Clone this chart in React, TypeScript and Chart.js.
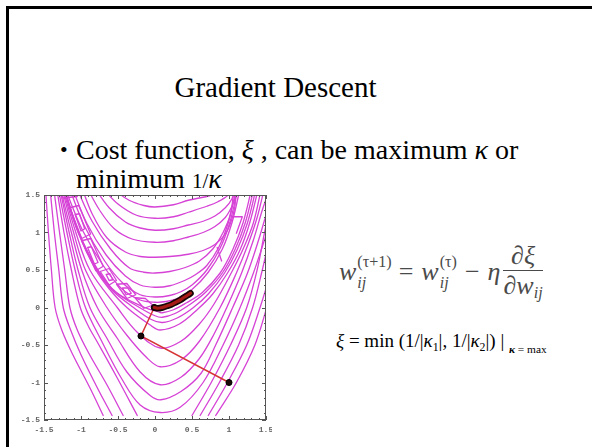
import React, { useEffect, useRef } from "react";
import { Chart, registerables } from "chart.js";

Chart.register(...registerables);

type Pt = [number, number];

// Axis ticks of the contour plot
const axisTickValues = [-1.5, -1, -0.5, 0, 0.5, 1, 1.5];

// Outer level curves below the valley, cut off at the lower edge of the sampled domain
const cutLeftArms: Pt[][] = [
  [[-1.48, 1.6], [-1.44, 1.0], [-1.4, 0.5], [-1.35, 0], [-1.26, -0.3], [-1.11, -0.63], [-0.88, -1.07], [-0.7, -1.44]],
  [[-1.42, 1.6], [-1.36, 1.0], [-1.3, 0.5], [-1.24, 0], [-1.14, -0.3], [-1.0, -0.63], [-0.78, -1.07], [-0.58, -1.44]],
  [[-1.37, 1.6], [-1.29, 1.0], [-1.22, 0.5], [-1.15, 0], [-1.05, -0.3], [-0.9, -0.6], [-0.65, -1.03], [-0.43, -1.44]],
  [[-1.33, 1.6], [-1.23, 1.0], [-1.13, 0.5], [-1.01, 0], [-0.9, -0.25], [-0.78, -0.46], [-0.51, -0.94], [-0.24, -1.44]],
];
const cutRightArms: Pt[][] = [
  [[0.82, -1.44], [1.1, -1.0], [1.35, -0.5], [1.51, 0.0], [1.56, 0.2]],
  [[0.72, -1.44], [0.98, -1.0], [1.24, -0.5], [1.42, 0], [1.53, 0.35]],
  [[0.61, -1.44], [0.87, -1.0], [1.13, -0.5], [1.32, 0], [1.45, 0.5], [1.53, 0.85]],
  [[0.5, -1.44], [0.76, -1.0], [1.02, -0.5], [1.24, 0], [1.38, 0.5], [1.48, 1.0], [1.54, 1.3]],
];

// Closed-bottom level curves below the valley
const lowerLevels: Pt[][] = [
  [[-1.31, 1.6], [-1.19, 1.0], [-1.08, 0.5], [-0.94, 0], [-0.72, -0.45], [-0.45, -0.95], [-0.2, -1.3], [0.07, -1.4], [0.34, -1.33], [0.65, -1.0], [0.92, -0.5], [1.15, 0], [1.33, 0.46], [1.48, 0.9], [1.55, 1.1]],
  [[-1.29, 1.6], [-1.16, 1.0], [-1.04, 0.5], [-0.88, 0], [-0.65, -0.41], [-0.38, -0.86], [-0.07, -1.17], [0.08, -1.23], [0.35, -1.12], [0.62, -0.88], [0.82, -0.5], [1.05, 0], [1.25, 0.46], [1.4, 0.9], [1.52, 1.3]],
  [[-1.28, 1.6], [-1.13, 1.0], [-0.99, 0.5], [-0.78, 0], [-0.51, -0.41], [-0.2, -0.86], [0.07, -1.03], [0.35, -0.93], [0.6, -0.68], [0.8, -0.35], [0.97, 0], [1.17, 0.46], [1.33, 0.9], [1.45, 1.3], [1.52, 1.5]],
  [[-1.26, 1.6], [-1.1, 1.0], [-0.94, 0.5], [-0.65, 0], [-0.38, -0.37], [-0.11, -0.67], [0.07, -0.79], [0.35, -0.7], [0.6, -0.45], [0.88, 0.0], [1.1, 0.46], [1.26, 0.85], [1.38, 1.2], [1.48, 1.6]],
  [[-1.25, 1.6], [-1.07, 1.0], [-0.88, 0.5], [-0.51, 0], [-0.24, -0.33], [0.07, -0.54], [0.35, -0.45], [0.6, -0.22], [0.8, 0.05], [1.03, 0.46], [1.2, 0.8], [1.33, 1.13], [1.44, 1.6]],
  [[-1.24, 1.6], [-1.04, 1.0], [-0.8, 0.5], [-0.62, 0.25], [-0.38, 0], [-0.07, -0.23], [0.07, -0.3], [0.33, -0.22], [0.58, -0.02], [0.78, 0.18], [0.98, 0.46], [1.15, 0.77], [1.28, 1.13], [1.4, 1.6]],
  [[-1.235, 1.6], [-1.035, 1.0], [-0.79, 0.5], [-0.58, 0.23], [-0.29, 0.0], [-0.05, -0.16], [0.1, -0.2], [0.3, -0.14], [0.52, 0.0], [0.72, 0.18], [0.94, 0.46], [1.11, 0.77], [1.25, 1.13], [1.37, 1.6]],
  [[-1.23, 1.6], [-1.03, 1.0], [-0.78, 0.5], [-0.55, 0.22], [-0.21, 0.0], [0.0, -0.11], [0.1, -0.13], [0.27, -0.08], [0.47, 0.04], [0.68, 0.2], [0.91, 0.46], [1.08, 0.77], [1.22, 1.13], [1.34, 1.6]],
  [[-1.23, 1.6], [-1.03, 1.0], [-0.77, 0.5], [-0.52, 0.2], [-0.14, 0.0], [0.05, -0.06], [0.1, -0.07], [0.25, -0.03], [0.42, 0.06], [0.64, 0.2], [0.88, 0.46], [1.05, 0.77], [1.19, 1.13], [1.31, 1.6]],
];

// Level curves inside the valley, from the top arc down to the valley floor
const upperLevels: Pt[][] = [
  [[-0.6, 1.6], [-0.35, 1.43], [-0.15, 1.36], [0.0, 1.34], [0.25, 1.37], [0.45, 1.43], [0.65, 1.47], [0.77, 1.5], [0.9, 1.6]],
  [[-0.72, 1.6], [-0.5, 1.38], [-0.25, 1.23], [0.0, 1.19], [0.25, 1.21], [0.45, 1.27], [0.7, 1.35], [0.85, 1.41], [0.99, 1.5], [1.05, 1.6]],
  [[-0.82, 1.6], [-0.62, 1.33], [-0.4, 1.14], [-0.2, 1.06], [0.0, 1.03], [0.25, 1.05], [0.45, 1.1], [0.65, 1.15], [0.81, 1.22], [0.95, 1.33], [1.04, 1.45], [1.08, 1.6]],
  [[-0.92, 1.6], [-0.75, 1.3], [-0.55, 1.05], [-0.3, 0.91], [0.0, 0.87], [0.25, 0.89], [0.45, 0.94], [0.65, 1.0], [0.81, 1.08], [0.95, 1.2], [1.03, 1.33], [1.1, 1.5], [1.12, 1.6]],
  [[-0.99, 1.6], [-0.85, 1.25], [-0.65, 0.93], [-0.4, 0.74], [-0.2, 0.68], [0.0, 0.67], [0.2, 0.68], [0.45, 0.71], [0.65, 0.76], [0.81, 0.84], [0.95, 0.98], [1.03, 1.15], [1.08, 1.35], [1.1, 1.6]],
  [[-1.06, 1.6], [-0.85, 1.15], [-0.6, 0.78], [-0.35, 0.53], [-0.15, 0.47], [0.0, 0.46], [0.2, 0.48], [0.4, 0.53], [0.6, 0.62], [0.78, 0.78], [0.92, 1.0], [1.02, 1.25], [1.07, 1.6]],
  [[-1.12, 1.6], [-0.92, 1.12], [-0.66, 0.7], [-0.4, 0.42], [-0.2, 0.3], [0.0, 0.27], [0.2, 0.29], [0.4, 0.36], [0.55, 0.44], [0.7, 0.56], [0.86, 0.8], [0.99, 1.13], [1.08, 1.5], [1.1, 1.6]],
  [[-1.16, 1.6], [-0.95, 1.08], [-0.68, 0.62], [-0.43, 0.32], [-0.2, 0.17], [0.0, 0.14], [0.2, 0.16], [0.35, 0.21], [0.5, 0.3], [0.7, 0.5], [0.88, 0.79], [1.01, 1.13], [1.1, 1.5], [1.12, 1.6]],
  [[-1.22, 1.6], [-1.18, 1.5], [-0.98, 1.03], [-0.7, 0.56], [-0.45, 0.25], [-0.2, 0.1], [0.0, 0.07], [0.15, 0.08], [0.3, 0.12], [0.5, 0.24], [0.72, 0.47], [0.91, 0.78], [1.04, 1.13], [1.13, 1.5], [1.15, 1.6]],
];

// Coarse grid-cell outlines along the left arm of the valley
const cellOutlines: Pt[][] = [
  [[-1.24, 1.46], [-1.05, 1.48]],
  [[-1.15, 1.33], [-1.03, 1.36], [-0.87, 0.98], [-0.99, 0.92], [-1.15, 1.33]],
  [[-1.08, 1.24], [-1.02, 1.25], [-0.95, 1.05], [-1.0, 1.02], [-1.08, 1.24]],
  [[-0.99, 0.89], [-0.87, 0.92], [-0.7, 0.55], [-0.8, 0.49], [-0.99, 0.89]],
  [[-0.91, 0.8], [-0.86, 0.81], [-0.77, 0.6], [-0.82, 0.58], [-0.91, 0.8]],
  [[-0.74, 0.48], [-0.62, 0.52], [-0.52, 0.36], [-0.62, 0.3], [-0.74, 0.48]],
  [[-0.66, 0.44], [-0.61, 0.45], [-0.57, 0.37], [-0.62, 0.36], [-0.66, 0.44]],
  [[-0.52, 0.31], [-0.38, 0.32], [-0.26, 0.17], [-0.38, 0.12], [-0.52, 0.31]],
  [[-0.44, 0.26], [-0.37, 0.26], [-0.32, 0.19], [-0.39, 0.17], [-0.44, 0.26]],
  [[-0.27, 0.13], [-0.13, 0.12], [-0.03, 0.03], [-0.15, -0.01], [-0.27, 0.13]],
];

// Short cross pieces between the two right-hand bands
const bandBridges: Pt[][] = [
  [[1.04, 1.21], [1.18, 1.21], [1.1, 0.99]],
  [[0.84, 0.8], [0.9, 0.62]],
];

// Gradient-descent iterates: two long first steps, then a slow creep along the valley
const stepX = [1.0, -0.19, -0.01];
const stepY = [-1.0, -0.38, 0.0];
const creepX = [-0.01, 0.04, 0.1, 0.16, 0.22, 0.28, 0.34, 0.4, 0.45, 0.48];
const creepY = [0.0, -0.01, 0.0, 0.02, 0.04, 0.07, 0.1, 0.14, 0.17, 0.19];

const MAGENTA = "rgb(214, 66, 214)";
const SERIF = '"Liberation Serif", "Times New Roman", serif';
const TICK_FONT = '"Liberation Mono", "DejaVu Sans Mono", monospace';

const toXY = (pts: Pt[]) => pts.map(([x, y]) => ({ x, y }));
const zipXY = (xs: number[], ys: number[]) => xs.map((x, i) => ({ x, y: ys[i] }));

const contour = (pts: Pt[], tension = 0.35) => ({
  data: toXY(pts),
  showLine: true,
  borderColor: MAGENTA,
  borderWidth: 1.3,
  pointRadius: 0,
  pointHoverRadius: 0,
  tension,
  clip: 0,
  borderJoinStyle: "round" as const,
  borderCapStyle: "round" as const,
});

// Frame with inward major/minor ticks, Mathematica style
const framePlugin = {
  id: "plotFrame",
  afterDatasetsDraw(chart: any) {
    const { ctx, chartArea: a, scales } = chart;
    const xs = scales.x;
    const ys = scales.y;
    ctx.save();
    ctx.strokeStyle = "#555";
    ctx.lineWidth = 1;
    ctx.strokeRect(a.left + 0.5, a.top + 0.5, a.right - a.left - 1, a.bottom - a.top - 1);
    ctx.beginPath();
    for (let i = -15; i <= 15; i++) {
      const v = i / 10;
      const major = i % 5 === 0;
      const len = major ? 4 : 2;
      const px = Math.round(xs.getPixelForValue(v)) + 0.5;
      const py = Math.round(ys.getPixelForValue(v)) + 0.5;
      ctx.moveTo(px, a.bottom);
      ctx.lineTo(px, a.bottom - len);
      ctx.moveTo(px, a.top);
      ctx.lineTo(px, a.top + len);
      ctx.moveTo(a.left, py);
      ctx.lineTo(a.left + len, py);
      ctx.moveTo(a.right, py);
      ctx.lineTo(a.right - len, py);
    }
    ctx.stroke();
    ctx.restore();
  },
};

function ContourChart() {
  const ref = useRef<HTMLCanvasElement>(null);
  useEffect(() => {
    if (!ref.current) return;
    const datasets: any[] = [
      {
        data: zipXY(creepX, creepY),
        showLine: true,
        borderColor: "rgb(165, 28, 22)",
        borderWidth: 3.2,
        pointRadius: 0,
        tension: 0.3,
        borderCapStyle: "round",
      },
      {
        data: zipXY(creepX, creepY),
        showLine: true,
        borderColor: "#160606",
        borderWidth: 6.5,
        pointRadius: 0,
        tension: 0.3,
        borderCapStyle: "round",
      },
      {
        data: zipXY(stepX, stepY),
        showLine: true,
        borderColor: "rgb(214, 52, 52)",
        borderWidth: 1.5,
        pointRadius: 3,
        pointBackgroundColor: "#1a0808",
        pointBorderColor: "#000",
        pointBorderWidth: 1,
        tension: 0,
      },
      ...cutLeftArms.map((p) => contour(p)),
      ...cutRightArms.map((p) => contour(p)),
      ...lowerLevels.map((p) => contour(p)),
      ...upperLevels.map((p) => contour(p)),
      ...cellOutlines.map((p) => contour(p, 0)),
      ...bandBridges.map((p) => contour(p, 0)),
    ];
    const tickStyle = {
      font: { family: TICK_FONT, size: 8, weight: "bold" as const },
      color: "#666",
      autoSkip: false,
      maxRotation: 0,
      callback: (v: any) => String(v),
    };
    const chart = new Chart(ref.current, {
      type: "scatter",
      data: { datasets },
      options: {
        animation: false,
        responsive: false,
        devicePixelRatio: 1,
        events: [],
        layout: { padding: { left: 0, right: 6, top: 7, bottom: 0 } },
        plugins: { legend: { display: false }, tooltip: { enabled: false } },
        scales: {
          x: {
            type: "linear",
            min: -1.5,
            max: 1.5,
            afterBuildTicks: (s: any) => {
              s.ticks = axisTickValues.map((value) => ({ value }));
            },
            afterFit: (s: any) => {
              s.height = 18;
              s.paddingLeft = 0;
              s.paddingRight = 0;
            },
            grid: { display: false, drawTicks: false },
            border: { display: false },
            ticks: { ...tickStyle, padding: 5 },
          },
          y: {
            type: "linear",
            min: -1.5,
            max: 1.5,
            afterBuildTicks: (s: any) => {
              s.ticks = axisTickValues.map((value) => ({ value }));
            },
            afterFit: (s: any) => {
              s.width = 34;
              s.paddingTop = 0;
              s.paddingBottom = 0;
            },
            grid: { display: false, drawTicks: false },
            border: { display: false },
            ticks: { ...tickStyle, padding: 4 },
          },
        },
      },
      plugins: [framePlugin],
    });
    return () => chart.destroy();
  }, []);
  return (
    <canvas
      ref={ref}
      width={262}
      height={250}
      style={{ position: "absolute", left: 10, top: 188, width: 262, height: 250 }}
    />
  );
}

function Scripted({ base, sup, sub }: { base: string; sup: string; sub: string }) {
  return (
    <span style={{ display: "inline-flex", alignItems: "center" }}>
      <span style={{ fontStyle: "italic" }}>{base}</span>
      <span
        style={{
          display: "inline-flex",
          flexDirection: "column",
          fontSize: "0.62em",
          lineHeight: 1.1,
          marginLeft: 1,
        }}
      >
        <span>{sup}</span>
        <span style={{ fontStyle: "italic", marginTop: 3 }}>{sub}</span>
      </span>
    </span>
  );
}

function UpdateRule() {
  return (
    <div
      style={{
        position: "absolute",
        left: 339,
        top: 242,
        fontFamily: SERIF,
        fontSize: 26,
        color: "#4a4a4a",
        display: "flex",
        alignItems: "center",
        whiteSpace: "nowrap",
      }}
    >
      <Scripted base="w" sup="(τ+1)" sub="ij" />
      <span style={{ margin: "0 8px 0 7px" }}>=</span>
      <Scripted base="w" sup="(τ)" sub="ij" />
      <span style={{ margin: "0 8px" }}>−</span>
      <span style={{ fontStyle: "italic" }}>η</span>
      <span
        style={{
          display: "inline-flex",
          flexDirection: "column",
          alignItems: "center",
          marginLeft: 3,
          lineHeight: 1.05,
        }}
      >
        <span>
          ∂<span style={{ fontStyle: "italic" }}>ξ</span>
        </span>
        <span style={{ alignSelf: "stretch", borderTop: "1px solid #4a4a4a", margin: "1px 0" }} />
        <span>
          ∂<span style={{ fontStyle: "italic" }}>w</span>
          <span style={{ fontStyle: "italic", fontSize: "0.62em", verticalAlign: "-0.25em" }}>ij</span>
        </span>
      </span>
    </div>
  );
}

function CostDefinition() {
  const sub = { fontSize: "0.62em", verticalAlign: "-0.3em" };
  return (
    <div
      style={{
        position: "absolute",
        left: 336,
        top: 331,
        fontFamily: SERIF,
        fontSize: 19,
        lineHeight: "20px",
        color: "#000",
        whiteSpace: "nowrap",
      }}
    >
      <span style={{ fontStyle: "italic" }}>ξ</span> = min (1/|<span style={{ fontStyle: "italic" }}>κ</span>
      <span style={sub}>1</span>|, 1/|<span style={{ fontStyle: "italic" }}>κ</span>
      <span style={sub}>2</span>|) |{" "}
      <span style={{ fontSize: "0.6em", verticalAlign: "-0.5em" }}>
        <b style={{ fontStyle: "italic" }}>κ</b> = max
      </span>
    </div>
  );
}

export default function App() {
  return (
    <div
      style={{
        position: "fixed",
        left: 0,
        top: 0,
        width: 592,
        height: 447,
        background: "#fff",
        overflow: "hidden",
      }}
    >
      <div
        style={{
          position: "absolute",
          left: 6,
          top: 6,
          width: 600,
          height: 460,
          borderLeft: "3px solid #000",
          borderTop: "3px solid #000",
        }}
      />
      <div
        style={{
          position: "absolute",
          left: 0,
          top: 72,
          width: 551,
          textAlign: "center",
          fontFamily: SERIF,
          fontSize: 29,
          lineHeight: "30px",
          color: "#000",
        }}
      >
        Gradient Descent
      </div>
      <div
        style={{
          position: "absolute",
          left: 60,
          top: 135,
          fontFamily: SERIF,
          fontSize: 28,
          lineHeight: "29px",
          color: "#000",
          whiteSpace: "nowrap",
        }}
      >
        <span style={{ position: "absolute", left: 0, fontSize: 22 }}>•</span>
        <div style={{ marginLeft: 16 }}>
          Cost function, <span style={{ fontStyle: "italic" }}>ξ</span> , can be maximum{" "}
          <span style={{ fontStyle: "italic" }}>κ</span> or
        </div>
        <div style={{ marginLeft: 16 }}>
          minimum <span style={{ fontSize: "0.75em" }}>1/</span>
          <span style={{ fontStyle: "italic" }}>κ</span>
        </div>
      </div>
      <UpdateRule />
      <CostDefinition />
      <ContourChart />
    </div>
  );
}
